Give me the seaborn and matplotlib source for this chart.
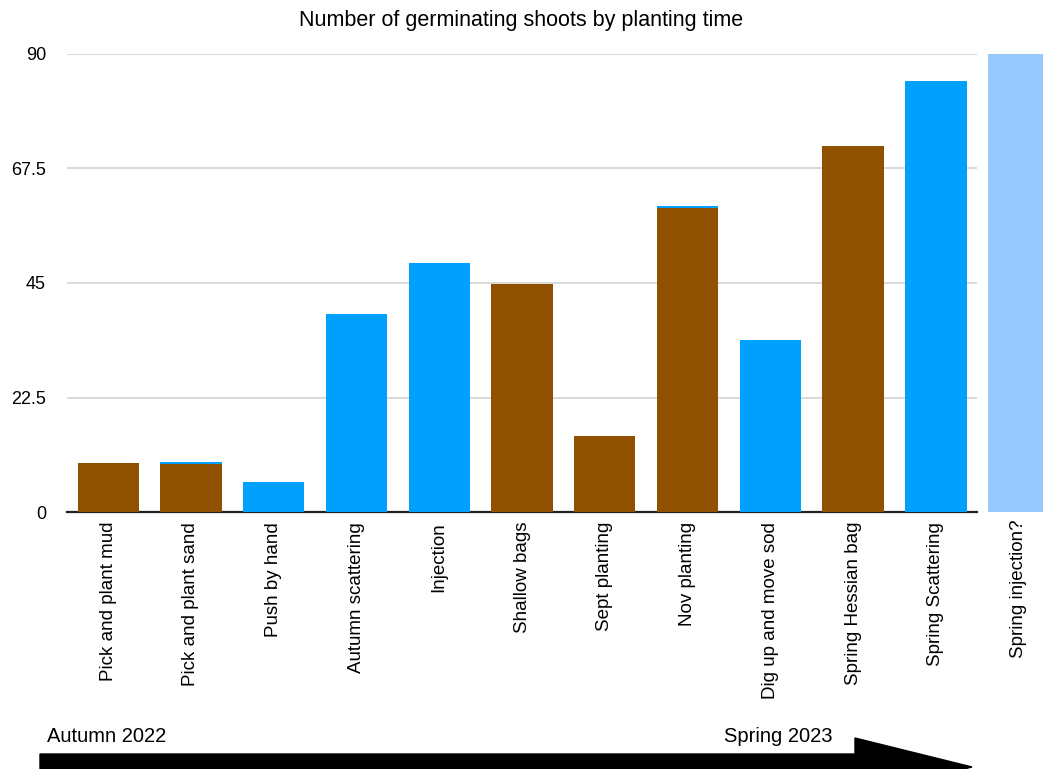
import matplotlib
matplotlib.use("Agg")
import matplotlib.pyplot as plt
import matplotlib.patches as mpatches
import pandas as pd
import seaborn as sns

# data
categories = [
    "Pick and plant mud", "Pick and plant sand", "Push by hand", "Autumn scattering",
    "Injection", "Shallow bags", "Sept planting", "Nov planting",
    "Dig up and move sod", "Spring Hessian bag", "Spring Scattering", "Spring injection?",
]
shoots = [9.6, 9.4, 5.9, 38.9, 48.9, 44.9, 14.9, 59.7, 33.9, 71.9, 84.7, 90.0]
method = ["brown", "brown", "blue", "blue", "blue", "brown", "brown", "brown",
          "blue", "brown", "blue", "planned"]
# thin blue edges peeking out above two brown bars
overlap = [None, 9.8, None, None, None, None, None, 60.1, None, None, None, None]

yticks = [0, 22.5, 45, 67.5, 90]
ytick_labels = ["0", "22.5", "45", "67.5", "90"]

palette = {"brown": "#8f5100", "blue": "#00a0ff", "planned": "#96c8fd"}

sns.set_theme(style="white")
plt.rcParams["font.family"] = ["Liberation Sans", "DejaVu Sans"]
plt.rcParams["text.color"] = "black"
plt.rcParams["xtick.color"] = "black"
plt.rcParams["ytick.color"] = "black"

df = pd.DataFrame({"category": categories, "shoots": shoots, "method": method})
df_overlap = pd.DataFrame({"category": categories, "shoots": overlap}).dropna()

fig = plt.figure(figsize=(10.43, 7.69), dpi=100)
ax = fig.add_axes([0.064, 0.334, 0.873, 0.596])

sns.barplot(data=df_overlap, x="category", y="shoots", order=categories,
            color=palette["blue"], width=0.74, ax=ax, zorder=2, saturation=1)
sns.barplot(data=df, x="category", y="shoots", order=categories, hue="method",
            palette=palette, width=0.74, dodge=False, legend=False, ax=ax,
            zorder=3, saturation=1)

for p in ax.patches:
    p.set_edgecolor("none")
    p.set_zorder(3)
# last (planned) bar sits outside the plotting area
planned_bar = [p for p in ax.patches if abs(p.get_x() + p.get_width() / 2 - 11) < 0.01][0]
planned_bar.set_clip_on(False)

ax.set_xlim(-0.5, 10.5)
ax.set_ylim(0, 90)
ax.set_yticks(yticks)
ax.set_yticklabels(ytick_labels, fontsize=13)
ax.tick_params(axis="y", length=0, pad=15)
ax.yaxis.grid(True, color="#d9d9d9", linewidth=1.4)
ax.set_axisbelow(True)

ax.set_xticks(range(11))
ax.set_xticklabels(categories[:11], rotation=90, fontsize=13.5, va="top")
ax.tick_params(axis="x", length=0, pad=7)
ax.text(11, -1.5, categories[11], rotation=90, ha="center", va="top",
        fontsize=13.5, clip_on=False)

for side in ["top", "right", "left"]:
    ax.spines[side].set_visible(False)
ax.spines["bottom"].set_color("#222222")
ax.spines["bottom"].set_linewidth(1.6)
ax.set_xlabel("")
ax.set_ylabel("")

fig.text(0.5, 0.973, "Number of germinating shoots by planting time",
         ha="center", va="center", fontsize=15.5)

# timeline arrow along the bottom, drawn in pixel units
overlay = fig.add_axes([0, 0, 1, 1], zorder=-1)
overlay.set_xlim(0, 1043)
overlay.set_ylim(769, 0)
overlay.axis("off")
overlay.add_patch(mpatches.FancyArrow(40, 767, 932, 0, width=26, head_width=58,
                                      head_length=117, length_includes_head=True,
                                      color="black"))
overlay.text(47, 737, "Autumn 2022", fontsize=14.5, va="center", ha="left")
overlay.text(833, 737, "Spring 2023", fontsize=14.5, va="center", ha="right")

fig.savefig("out.png", dpi=100, facecolor="white")
